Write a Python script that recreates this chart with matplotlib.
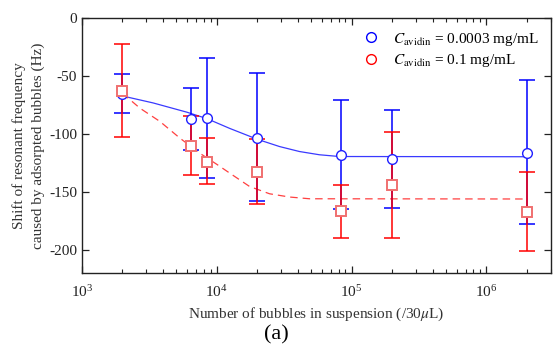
import numpy as np
import matplotlib
matplotlib.use('Agg')
import matplotlib.pyplot as plt

plt.rcParams['font.family'] = ['Liberation Serif', 'DejaVu Serif']
plt.rcParams['mathtext.fontset'] = 'stix'
plt.rcParams['axes.unicode_minus'] = False

# measured points
n_bubbles = [2000, 6500, 8500, 20000, 83000, 200000, 2000000]

blue_y = [-65.5, -86.8, -86.2, -102.9, -117.6, -121.3, -115.9]
blue_top = [-48.3, -60.3, -34.5, -47.4, -70.4, -79.0, -53.5]
blue_bot = [-81.9, -113.8, -138.0, -158.0, -164.7, -163.8, -177.3]

red_y = [-62.4, -109.8, -123.9, -132.5, -166.4, -143.7, -167.2]
red_top = [-22.4, -84.5, -103.4, -104.3, -144.3, -97.8, -132.8]
red_bot = [-102.6, -135.1, -143.1, -160.3, -189.7, -189.7, -200.6]

# fitted curves
blue_fit_x = [2000, 3370, 6000, 8430, 12470, 20100, 29240, 41100, 57800, 81100, 2030000]
blue_fit_y = [-67.0, -73.0, -81.0, -86.5, -95.0, -104.5, -110.7, -115.0, -117.8, -119.3, -119.5]

red_fit_x = [2000, 2700, 3790, 5330, 7480, 10000, 12470, 17530, 24660, 34670, 48760, 2030000]
red_fit_y = [-64.7, -77.6, -89.0, -103.4, -116.4, -126.0, -133.6, -145.2, -151.5, -154.3, -155.8, -156.0]

fig = plt.figure(figsize=(5.53, 3.47), dpi=100)
ax = fig.add_axes([0.148, 0.213, 0.848, 0.734])

x = np.array(n_bubbles)
b = np.array(blue_y)
r = np.array(red_y)
b_err = [b - np.array(blue_bot), np.array(blue_top) - b]
r_err = [r - np.array(red_bot), np.array(red_top) - r]

ax.plot(blue_fit_x, blue_fit_y, '-', color='#3a3aff', lw=0.9, zorder=2)
ax.plot(red_fit_x, red_fit_y, '--', color='#ff4040', lw=0.9, dashes=(6, 4), zorder=2)

ax.errorbar(x, b, yerr=b_err, fmt='none', ecolor='#0000ff', elinewidth=1.1,
            capsize=6, capthick=1.1, zorder=3)
ax.errorbar(x, r, yerr=r_err, fmt='none', ecolor='#ff0000', elinewidth=1.1,
            capsize=6, capthick=1.1, zorder=4)

ax.plot(x, b, 'o', mfc='white', mec='#2020ff', mew=1.0, ms=7, ls='none', zorder=5)
ax.plot(x, r, 's', mfc='white', mec='#f07070', mew=1.4, ms=6.5, ls='none', zorder=6)

# legend handles (open circles in both colours)
h1, = ax.plot([], [], 'o', mfc='white', mec='#0000ff', mew=1.0, ms=7, ls='none')
h2, = ax.plot([], [], 'o', mfc='white', mec='#ff0000', mew=1.0, ms=7, ls='none')
ax.legend([h1, h2],
          [r'$C_{\rm avidin}$ = 0.0003 mg/mL', r'$C_{\rm avidin}$ = 0.1 mg/mL'],
          loc='upper right', frameon=False, fontsize=11, handletextpad=0.45,
          borderaxespad=0.3, labelspacing=0.3, borderpad=0.5)

ax.set_xscale('log')
ax.set_xlim(1e3, 3e6)
ax.set_ylim(-220, 0)
ax.set_yticks([0, -50, -100, -150, -200])
ax.set_yticklabels(['0', '-50', '-100', '-150', '-200'])

ax.tick_params(which='both', direction='in', top=True, right=True, labelsize=11,
               colors='#222222')
ax.tick_params(which='major', length=5, width=0.9)
ax.tick_params(which='minor', length=3, width=0.8)
ax.tick_params(axis='x', which='major', pad=8)
for s in ax.spines.values():
    s.set_linewidth(1.0)
    s.set_color('#222222')

ax.set_xlabel(r'Number of bubbles in suspension (/30$\mu$L)', fontsize=11,
              color='#333333', labelpad=4)
ax.set_ylabel('Shift of resonant frequency\ncaused by adsorpted bubbles (Hz)',
              fontsize=11, color='#333333', labelpad=3, linespacing=1.5)
fig.text(0.5, 0.035, '(a)', fontsize=16, ha='center', va='center')

fig.savefig('out.png', dpi=100)
